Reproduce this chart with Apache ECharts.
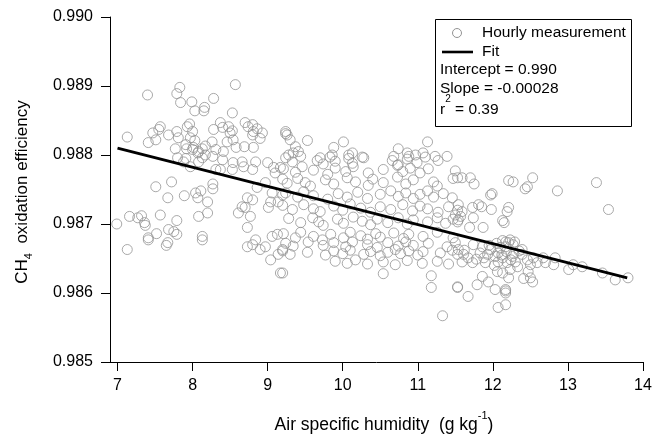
<!DOCTYPE html>
<html><head><meta charset="utf-8">
<script src="https://cdn.jsdelivr.net/npm/echarts@6/dist/echarts.min.js"></script>
<style>html,body{margin:0;padding:0;background:#fff}#c{width:655px;height:435px}</style>
</head><body><div id="c"></div>
<script>
const xTicks=[7,8,9,10,11,12,13,14];
const yTicks=[0.985,0.986,0.987,0.988,0.989,0.990];
const seriesNames=['Hourly measurement','Fit'];
const fitStats=['Intercept = 0.990','Slope = -0.00028','0.39'];
const fitX=[7.0,13.79];
const fitY=[0.98810,0.98622];
// hourly measurements, upper-left region (dry air)
const ptsDry=[
[7.40,0.98887],[7.83,0.98898],[7.79,0.98889],[7.84,0.98876],[7.99,0.98877],[8.03,0.98864],[8.15,0.98864],[8.16,0.98869],[8.28,0.98882],[8.57,0.98902],[8.53,0.98861],
[7.13,0.98826],[7.41,0.98818],[7.47,0.98832],[7.51,0.98822],[7.55,0.98837],[7.57,0.98841],[7.68,0.98829],[7.79,0.98834],[7.81,0.98825],[7.93,0.98841],[7.96,0.98845],
[8.00,0.98834],[7.97,0.98825],[8.03,0.98821],[7.91,0.98815],[7.77,0.98809],[7.92,0.98809],[8.01,0.98811],[8.08,0.98805],[8.13,0.98809],[8.17,0.98813],[8.26,0.98819],
[8.28,0.98837],[8.37,0.98847],[8.40,0.98840],[8.48,0.98841],[8.50,0.98832],[8.53,0.98835],[8.54,0.98822],[8.46,0.98819],[8.58,0.98811],[8.70,0.98847],[8.74,0.98841],
[8.80,0.98844],[8.81,0.98834],[8.86,0.98838],[8.93,0.98832],[8.90,0.98824],[8.80,0.98829],[8.69,0.98812],[8.81,0.98811],[9.24,0.98831],[8.31,0.98808],[8.41,0.98805],
[8.17,0.98800],[8.00,0.98808],[8.07,0.98803],
[7.80,0.98796],[7.91,0.98795],[7.97,0.98783],[8.13,0.98796],[8.27,0.98798],[8.40,0.98793],[8.37,0.98779],[8.53,0.98779],[8.54,0.98789],[8.66,0.98790],[8.68,0.98783],
[8.80,0.98779],[8.84,0.98790],[9.00,0.98789],[9.08,0.98782],[9.17,0.98782],[9.10,0.98774],[8.31,0.98779],[8.08,0.98790],[7.88,0.98790],
[7.51,0.98754],[7.72,0.98761],[7.67,0.98738],[7.89,0.98741],[8.04,0.98745],[8.11,0.98748],[8.07,0.98738],[8.27,0.98758],[8.27,0.98751],[8.20,0.98732],[8.86,0.98753],
[8.73,0.98738],[8.80,0.98735],[8.66,0.98725],[8.70,0.98724],[8.61,0.98716],[8.77,0.98711],[8.97,0.98760],[9.06,0.98745],[9.04,0.98732],[9.01,0.98724],[9.14,0.98732],
[9.20,0.98742],[7.16,0.98711],[7.27,0.98709],[7.32,0.98712],[7.36,0.98702],[7.37,0.98698],[7.57,0.98713],[7.79,0.98705],[8.08,0.98711],[8.20,0.98716],[6.99,0.98700],
[7.52,0.98686],[7.41,0.98680],[7.68,0.98692],[7.75,0.98689],[7.79,0.98685],[8.13,0.98682],[8.73,0.98695],[8.84,0.98677],[9.06,0.98682],[9.13,0.98685],[8.80,0.98670],
[7.67,0.98673],[7.13,0.98663],[7.41,0.98677],[7.65,0.98669],[8.13,0.98677],[8.73,0.98667],[8.90,0.98663],[8.97,0.98667],[9.04,0.98648],[9.14,0.98656],[9.17,0.98629],[9.20,0.98663]
];
// hourly measurements, middle region
const ptsMid=[
[9.24,0.98834],[9.26,0.98829],[9.30,0.98822],[9.37,0.98812],[9.53,0.98821],[9.28,0.98800],[9.34,0.98803],[9.41,0.98805],[9.70,0.98796],[9.88,0.98811],[9.86,0.98800],
[10.01,0.98819],[10.08,0.98800],[10.13,0.98803],[10.28,0.98796],[10.74,0.98809],[10.68,0.98798],[10.88,0.98798],[10.86,0.98803],[10.97,0.98800],[11.07,0.98803],[11.13,0.98819],[11.23,0.98798],[11.39,0.98798],
[9.24,0.98796],[9.33,0.98790],[9.44,0.98798],[9.66,0.98792],[9.74,0.98787],[9.83,0.98797],[9.90,0.98791],[10.08,0.98795],[10.13,0.98788],[10.26,0.98797],[10.66,0.98792],[10.74,0.98786],[10.86,0.98794],[10.99,0.98789],[11.10,0.98797],[11.27,0.98792],
[9.21,0.98780],[9.37,0.98775],[9.46,0.98783],[9.61,0.98778],[9.80,0.98772],[9.90,0.98781],[10.04,0.98776],[10.14,0.98783],[10.34,0.98774],[10.54,0.98779],[10.73,0.98785],[10.80,0.98776],[10.90,0.98781],[11.03,0.98774],[11.14,0.98780],[11.50,0.98777],
[9.20,0.98765],[9.26,0.98759],[9.40,0.98766],[9.50,0.98760],[9.57,0.98755],[9.77,0.98764],[9.88,0.98758],[10.06,0.98767],[10.17,0.98761],[10.34,0.98756],[10.40,0.98765],[10.54,0.98760],[10.73,0.98768],[10.84,0.98758],[10.94,0.98764],[11.21,0.98761],[11.26,0.98755],[11.47,0.98766],
[9.24,0.98745],[9.40,0.98739],[9.48,0.98747],[9.61,0.98741],[9.80,0.98736],[9.94,0.98744],[10.06,0.98739],[10.20,0.98746],[10.33,0.98737],[10.50,0.98743],[10.64,0.98748],[10.74,0.98740],[10.84,0.98745],[10.94,0.98737],[11.03,0.98743],[11.13,0.98748],[11.21,0.98739],[11.34,0.98744],[11.46,0.98738],
[9.20,0.98727],[9.33,0.98721],[9.48,0.98728],[9.61,0.98722],[9.70,0.98718],[9.88,0.98726],[10.00,0.98720],[10.10,0.98729],[10.24,0.98723],[10.37,0.98717],[10.50,0.98725],[10.64,0.98721],[10.80,0.98728],[10.93,0.98719],[11.03,0.98726],[11.13,0.98722],[11.27,0.98717],[11.41,0.98725],[11.53,0.98720],
[9.28,0.98708],[9.44,0.98702],[9.60,0.98709],[9.68,0.98703],[9.74,0.98698],[9.93,0.98707],[10.01,0.98701],[10.14,0.98710],[10.26,0.98704],[10.37,0.98699],[10.46,0.98707],[10.60,0.98702],[10.74,0.98709],[10.86,0.98700],[10.94,0.98706],[11.13,0.98703],[11.26,0.98709],[11.37,0.98701],[11.47,0.98707],
[9.21,0.98686],[9.37,0.98680],[9.44,0.98688],[9.61,0.98682],[9.73,0.98677],[9.84,0.98685],[10.01,0.98680],[10.10,0.98688],[10.24,0.98683],[10.33,0.98678],[10.44,0.98686],[10.50,0.98681],[10.68,0.98687],[10.81,0.98679],[10.88,0.98685],[11.07,0.98682],[11.26,0.98688],[11.47,0.98680],
[9.24,0.98672],[9.34,0.98668],[9.54,0.98674],[9.74,0.98669],[9.88,0.98673],[10.04,0.98667],[10.13,0.98674],[10.33,0.98670],[10.46,0.98666],[10.60,0.98673],[10.74,0.98668],[10.84,0.98674],[10.94,0.98669],[11.14,0.98672],[11.39,0.98667],[11.50,0.98673],
[9.20,0.98661],[9.30,0.98656],[9.53,0.98659],[9.77,0.98655],[9.88,0.98661],[10.00,0.98657],[10.10,0.98662],[10.28,0.98656],[10.37,0.98660],[10.50,0.98654],[10.60,0.98659],[10.70,0.98663],[10.77,0.98657],[10.88,0.98661],[11.00,0.98655],[11.07,0.98660],[11.30,0.98658],[11.46,0.98662],[11.53,0.98656],
[9.90,0.98646],[10.06,0.98643],[10.17,0.98648],[10.33,0.98642],[10.54,0.98645],[10.70,0.98641],[10.86,0.98647],[11.06,0.98643],[11.26,0.98646],[11.41,0.98642],
[9.20,0.98629],[10.54,0.98628],[11.18,0.98625],[11.18,0.98608],[11.53,0.98608],[11.33,0.98567]
];
// hourly measurements, humid region
const ptsHumid=[
[11.53,0.98767],[11.59,0.98767],[11.70,0.98767],[11.75,0.98758],[12.21,0.98763],[12.27,0.98761],[12.53,0.98767],[12.46,0.98754],[12.43,0.98751],[12.86,0.98748],[13.38,0.98760],
[11.97,0.98742],[11.99,0.98744],[11.54,0.98728],[11.73,0.98724],[11.81,0.98728],[11.85,0.98725],[11.98,0.98721],[12.21,0.98724],[12.19,0.98718],[13.54,0.98721],[11.50,0.98713],
[11.59,0.98718],[11.54,0.98706],[11.74,0.98709],[11.69,0.98695],[11.87,0.98695],[12.13,0.98705],[12.15,0.98702],[11.53,0.98703],[11.57,0.98711],[12.13,0.98676],[12.23,0.98677],
[12.29,0.98674],[12.17,0.98674],
[11.54,0.98663],[11.61,0.98656],[11.59,0.98645],[11.67,0.98651],[11.73,0.98644],[11.74,0.98670],[11.83,0.98658],[11.86,0.98667],[11.93,0.98656],[11.97,0.98663],[11.90,0.98644],
[12.03,0.98653],[12.07,0.98645],[12.07,0.98658],[12.13,0.98651],[12.17,0.98667],[12.19,0.98644],[12.21,0.98673],[12.26,0.98653],[12.27,0.98670],[12.30,0.98645],[12.33,0.98638],
[12.39,0.98656],[12.39,0.98663],[12.46,0.98648],[12.50,0.98641],[12.54,0.98651],[12.59,0.98644],[12.67,0.98651],[12.70,0.98644],[12.83,0.98651],[12.81,0.98641],[13.01,0.98634],
[13.07,0.98641],[13.19,0.98638],[13.46,0.98629],[13.63,0.98619],[13.80,0.98622],[11.53,0.98609],[11.67,0.98595],[11.79,0.98612],[11.86,0.98624],[11.94,0.98616],[12.03,0.98605],
[12.17,0.98605],[12.17,0.98600],[12.17,0.98603],[12.07,0.98579],[12.17,0.98583],[12.21,0.98622],[12.41,0.98621],[12.50,0.98622],[12.53,0.98616],[12.47,0.98631],[12.13,0.98629],
[12.23,0.98634],[12.06,0.98631],
[11.62,0.98662],[11.78,0.98649],[11.95,0.98669],[12.02,0.98640],[12.10,0.98666],[12.24,0.98648],[12.35,0.98661],[12.12,0.98655],[11.88,0.98651],[12.28,0.98657],[12.05,0.98672],[12.18,0.98660]
];
const hourlyPts=ptsDry.concat(ptsMid,ptsHumid);

const FF='"Liberation Sans", Arial, sans-serif';
const GRAY='#939393';
const chart=echarts.init(document.getElementById('c'),null,{renderer:'canvas'});
chart.setOption({
  animation:false,
  backgroundColor:'#fff',
  grid:{left:110,right:12,top:17,bottom:73,containLabel:false,outerBoundsMode:'none'},
  xAxis:{type:'value',min:6.9,max:14,
    axisLine:{show:true,onZero:false,lineStyle:{color:'#000',width:1}},
    axisTick:{show:true,length:9,customValues:xTicks,lineStyle:{color:'#000',width:1}},
    axisLabel:{customValues:xTicks,fontSize:16,color:'#000',fontFamily:FF,margin:16},
    splitLine:{show:false}
  },
  yAxis:{type:'value',min:0.985,max:0.990,
    axisLine:{show:true,onZero:false,lineStyle:{color:'#000',width:1}},
    axisTick:{show:true,length:9,customValues:yTicks,lineStyle:{color:'#000',width:1}},
    axisLabel:{customValues:yTicks,fontSize:16,color:'#000',fontFamily:FF,margin:17,formatter:v=>Number(v).toFixed(3)},
    splitLine:{show:false}
  },
  graphic:[
    // axis titles
    {type:'text',x:384,y:422,z:7,style:{text:'{t|Air specific humidity  (g kg}{s|-1}{t|)}',align:'center',verticalAlign:'middle',
      rich:{t:{fontSize:17.5,fontFamily:FF,fill:'#000',lineHeight:24,verticalAlign:'bottom'},s:{fontSize:11,fontFamily:FF,fill:'#000',lineHeight:24,verticalAlign:'top'}}}},
    {type:'text',x:24,y:192,rotation:Math.PI/2,z:7,style:{text:'{t|CH}{s|4}{t|  oxidation efficiency}',align:'center',verticalAlign:'middle',
      rich:{t:{fontSize:17,fontFamily:FF,fill:'#000',lineHeight:20,verticalAlign:'top'},s:{fontSize:11,fontFamily:FF,fill:'#000',lineHeight:20,verticalAlign:'bottom'}}}},
    // legend box
    {type:'rect',shape:{x:435.5,y:19.5,width:196,height:107},style:{fill:'#fff',stroke:'#000',lineWidth:1},z:5},
    {type:'circle',shape:{cx:457,cy:33,r:4.5},style:{fill:'none',stroke:GRAY,lineWidth:1},z:6},
    {type:'text',x:482,y:33,z:7,style:{text:seriesNames[0],font:'15.5px '+FF,fill:'#000',verticalAlign:'middle'}},
    {type:'line',shape:{x1:442,y1:52,x2:473,y2:52},style:{stroke:'#000',lineWidth:2.6},z:6},
    {type:'text',x:482,y:52,z:7,style:{text:seriesNames[1],font:'15.5px '+FF,fill:'#000',verticalAlign:'middle'}},
    {type:'text',x:440,y:70,z:7,style:{text:fitStats[0],font:'15.5px '+FF,fill:'#000',verticalAlign:'middle'}},
    {type:'text',x:440,y:89,z:7,style:{text:fitStats[1],font:'15.5px '+FF,fill:'#000',verticalAlign:'middle'}},
    {type:'text',x:440,y:106,z:7,style:{text:'{t|r}{s|2}{t| = '+fitStats[2]+'}',verticalAlign:'middle',
      rich:{t:{fontSize:15.5,fontFamily:FF,fill:'#000',lineHeight:24,verticalAlign:'bottom'},s:{fontSize:10,fontFamily:FF,fill:'#000',lineHeight:24,verticalAlign:'top'}}}}
  ],
  series:[
    {name:seriesNames[0],type:'scatter',symbol:'circle',symbolSize:10,data:hourlyPts,z:2,
      itemStyle:{color:'rgba(255,255,255,0)',borderColor:GRAY,borderWidth:1}},
    {name:seriesNames[1],type:'line',symbol:'none',data:fitX.map((x,i)=>[x,fitY[i]]),z:4,
      lineStyle:{color:'#000',width:2.8}}
  ]
});
</script></body></html>
